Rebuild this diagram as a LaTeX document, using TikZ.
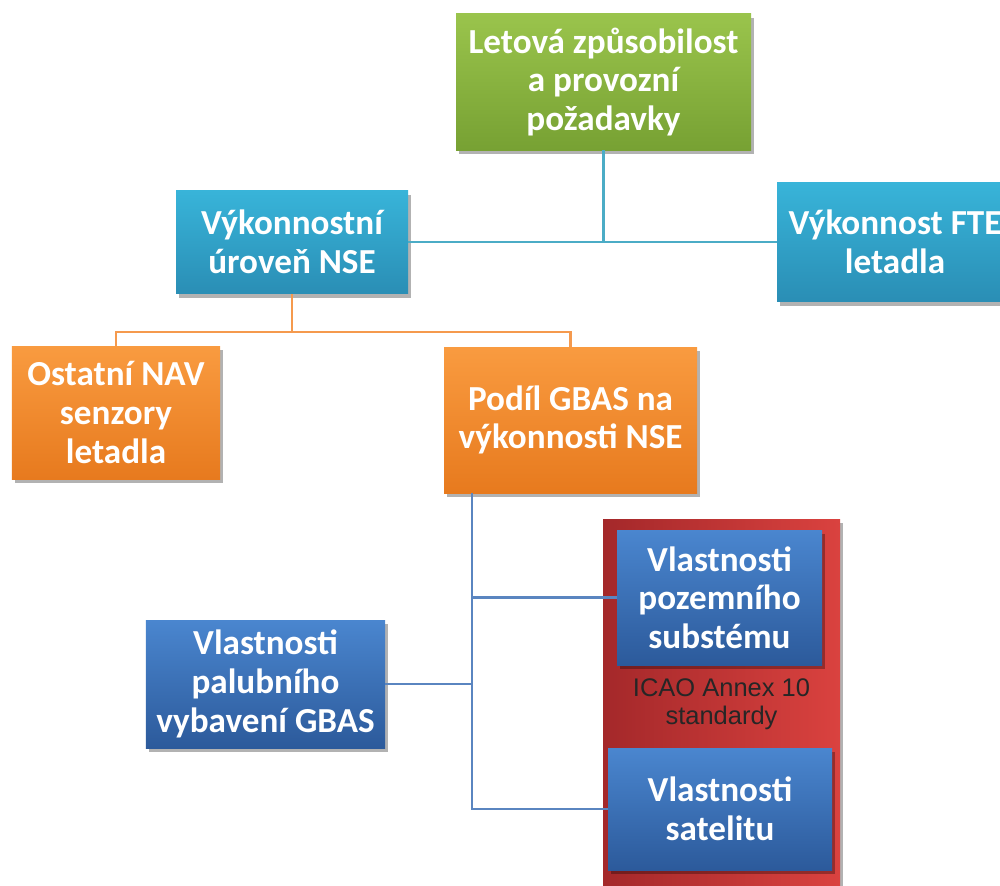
\documentclass[tikz,border=0pt]{standalone}
\usepackage{fontspec}
\setmainfont{Carlito}
\newfontfamily\annexfont{Liberation Sans}
\usetikzlibrary{positioning,calc,shadows}
\definecolor{greentop}{HTML}{9AC44C}
\definecolor{greenbot}{HTML}{77A133}
\definecolor{tealtop}{HTML}{38B4D9}
\definecolor{tealbot}{HTML}{2A8EB5}
\definecolor{orangetop}{HTML}{F99B40}
\definecolor{orangebot}{HTML}{E77A1E}
\definecolor{bluetop}{HTML}{4A86CF}
\definecolor{bluebot}{HTML}{2C5A9B}
\definecolor{redleft}{HTML}{A4282A}
\definecolor{redright}{HTML}{DA423F}
\definecolor{tealink}{HTML}{4BACC6}
\definecolor{orangeink}{HTML}{F59A4E}
\definecolor{blueink}{HTML}{5A85C0}
\tikzset{
basebox/.style={align=center, inner sep=0pt, text=white, font=\fontsize{20}{22}\selectfont\bfseries,
  drop shadow={shadow xshift=0.6mm, shadow yshift=-0.8mm, opacity=0.3, fill=black}},
greenbox/.style={basebox, top color=greentop, bottom color=greenbot},
tealbox/.style={basebox, top color=tealtop, bottom color=tealbot},
orangebox/.style={basebox, top color=orangetop, bottom color=orangebot},
bluebox/.style={basebox, top color=bluetop, bottom color=bluebot},
annexbox/.style={align=center, inner sep=0pt, left color=redleft, right color=redright,
  text=black!85, font=\annexfont\fontsize{14.5}{16}\selectfont,
  drop shadow={shadow xshift=0.6mm, shadow yshift=-0.8mm, opacity=0.3, fill=black}},
tealline/.style={draw=tealink, line width=1.3pt},
orangeline/.style={draw=orangeink, line width=1.3pt},
blueline/.style={draw=blueink, line width=1.3pt}
}
\begin{document}
\begin{tikzpicture}[x=0.2mm,y=-0.2mm]
\useasboundingbox (0,0) rectangle (1000,886);
\clip (0,0) rectangle (1000,886);

% top level
\node[greenbox, minimum width=59mm, minimum height=27.2mm] (letov) at (603.5,82) {Letová způsobilost\\a provozní\\požadavky};
\node[tealbox, minimum width=46.4mm, minimum height=20.6mm] (nse) at (292,242) {Výkonnostní\\úroveň NSE};
\node[tealbox, minimum width=47.2mm, minimum height=23.8mm] (fte) at (895,242) {Výkonnost FTE\\letadla};

% NSE parts
\node[orangebox, minimum width=41.6mm, minimum height=26.6mm] (ost) at (116,412.5) {Ostatní NAV\\senzory\\letadla};
\node[orangebox, minimum width=50.6mm, minimum height=29.2mm] (podil) at (570.5,420) {Podíl GBAS na\\výkonnosti NSE};

% GBAS parts
\node[bluebox, minimum width=47.8mm, minimum height=25.6mm] (palub) at (265.5,684) {Vlastnosti\\palubního\\vybavení GBAS};
\node[annexbox, minimum width=47.4mm, minimum height=74.2mm] (annex) at (721.5,704.5) {ICAO Annex 10\\standardy};
\node[bluebox, minimum width=41mm, minimum height=27mm] (pozem) at (719.5,597.5) {Vlastnosti\\pozemního\\substému};
\node[bluebox, minimum width=44.8mm, minimum height=24.4mm] (satel) at (720,809) {Vlastnosti\\satelitu};

% connectors
\draw[tealline] (letov.south) -- (letov.south |- nse.east);
\draw[tealline] (nse.east) -- (fte.west);
\draw[orangeline] (nse.south) -- ++(0,38) coordinate (obus) -| (ost.north);
\draw[orangeline] (obus) -| (podil.north);
\coordinate (gbus) at ($(podil.south west)+(28,0)$);
\draw[blueline] (gbus) -- (gbus |- satel.west) -- (satel.west);
\draw[blueline] (gbus |- pozem.west) -- (pozem.west);
\draw[blueline] (gbus |- palub.east) -- (palub.east);
\end{tikzpicture}
\end{document}
